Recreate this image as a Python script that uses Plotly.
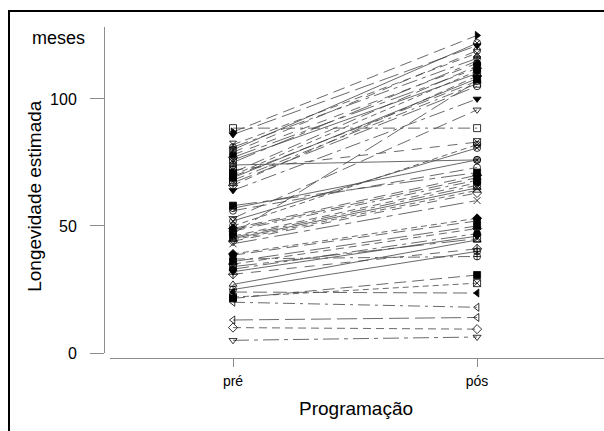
import plotly.graph_objects as go

# ---- data ----
categories = ["pré", "pós"]
pre_values = [87.0, 88.5, 86.0, 82.0, 81.0, 80.0, 78.0, 77.0, 76.0, 71.0,
              70.0, 69.5, 68.0, 67.0, 66.0, 64.0, 74.0, 72.0, 58.0, 57.0,
              53.0, 50.0, 49.0, 48.0, 47.0, 46.0, 45.5, 45.0, 44.0, 43.0,
              52.0, 48.5, 39.0, 38.5, 37.0, 36.0, 35.0, 33.0, 32.0, 31.0,
              34.0, 27.0, 24.0, 22.0, 21.5, 20.0, 13.0, 10.0, 5.0, 25.0,
              79.0, 75.0, 69.0, 56.0, 44.5]
post_values = [125.0, 88.5, 121.0, 118.0, 116.0, 122.0, 114.0, 112.0, 110.0, 113.0,
               111.0, 107.0, 106.0, 105.0, 109.0, 100.0, 76.0, 83.0, 71.0, 76.0,
               95.7, 82.0, 70.0, 68.0, 107.0, 67.0, 66.0, 65.0, 63.0, 60.0,
               80.7, 69.0, 53.0, 52.0, 38.0, 50.0, 49.0, 47.0, 46.0, 41.0,
               45.0, 44.5, 23.6, 27.5, 30.7, 18.0, 14.0, 9.4, 6.3, 40.0,
               119.0, 115.0, 108.0, 73.0, 64.0]
y_ticks = [0, 50, 100]

# ---- styles ----
symbols = ["triangle-right", "square-open", "triangle-down", "hourglass-open", "circle-cross-open",
           "circle-x-open", "circle", "diamond-open", "square-x-open", "square",
           "circle", "triangle-up", "square-open", "circle-open", "diamond-cross-open",
           "triangle-down", "circle-cross-open", "square-x-open", "square", "circle-x-open",
           "triangle-down-open", "circle-x-open", "diamond", "square", "circle-open",
           "circle", "square-x-open", "triangle-up-open", "diamond-open", "x-thin-open",
           "circle-x-open", "triangle-up", "diamond", "circle", "circle-cross-open",
           "square", "diamond-open", "circle", "triangle-down", "diamond-cross-open",
           "square-x-open", "triangle-up-open", "triangle-left", "square-x-open", "square",
           "triangle-left-open", "triangle-left-open", "diamond-open", "triangle-down-open", "circle-cross-open",
           "circle-open", "hourglass-open", "square", "circle-open", "triangle-up-open"]
dashes = ["12px,6px", "12px,5px,3px,5px", "20px,6px", "8px,5px", "16px,5px,4px,5px",
          "solid", "10px,8px", "24px,6px,6px,6px", "solid", "14px,6px", "6px,4px"]

fig = go.Figure()
for i, (a, b) in enumerate(zip(pre_values, post_values)):
    fig.add_trace(go.Scatter(
        x=[0, 1], y=[a, b], mode="lines+markers",
        line=dict(color="#444444", width=0.8, dash=dashes[i % len(dashes)]),
        marker=dict(symbol=symbols[i % len(symbols)], size=7, color="black",
                    line=dict(color="black", width=0.8)),
        showlegend=False, hoverinfo="skip"))

axis_gray = "#8c8c8c"
fig.update_layout(
    width=604, height=431,
    margin=dict(l=104, r=0, t=27, b=73),
    paper_bgcolor="white", plot_bgcolor="white",
    font=dict(family="Liberation Sans, Arial, sans-serif", color="black", size=14),
    xaxis=dict(domain=[0.012, 1], range=[-0.504, 1.52], tickmode="array",
               tickvals=[0, 1], ticktext=categories, showgrid=False, zeroline=False,
               showline=True, linecolor=axis_gray, linewidth=1,
               ticks="outside", ticklen=8, tickcolor=axis_gray,
               ticklabelstandoff=2,
               anchor="free", position=0, tickfont=dict(size=14)),
    yaxis=dict(domain=[0.015, 1], range=[0, 128.3], tickmode="array",
               tickvals=y_ticks, ticktext=[str(v) for v in y_ticks],
               showgrid=False, zeroline=False,
               showline=True, linecolor=axis_gray, linewidth=1,
               ticks="outside", ticklen=14, tickcolor=axis_gray,
               ticklabelstandoff=10,
               anchor="free", position=0, tickfont=dict(size=16)),
    annotations=[
        dict(text="Longevidade estimada", xref="paper", yref="paper",
             x=-0.138, y=0.49, textangle=-90, showarrow=False,
             font=dict(size=19), xanchor="center", yanchor="middle"),
        dict(text="Programação", xref="paper", yref="paper",
             x=0.504, y=-0.152, showarrow=False, font=dict(size=19),
             xanchor="center", yanchor="middle"),
        dict(text="meses", xref="paper", yref="paper",
             x=-0.092, y=0.968, showarrow=False, font=dict(size=18),
             xanchor="center", yanchor="middle"),
    ],
    shapes=[
        dict(type="rect", xref="paper", yref="paper",
             x0=-0.19, x1=1.01, y0=-0.25, y1=1.048,
             line=dict(color="black", width=2), fillcolor="rgba(0,0,0,0)",
             layer="below"),
    ],
)

fig.write_html("out.html", config={"displayModeBar": False},
               post_script="document.body.style.margin='0';document.body.style.overflow='hidden';")
